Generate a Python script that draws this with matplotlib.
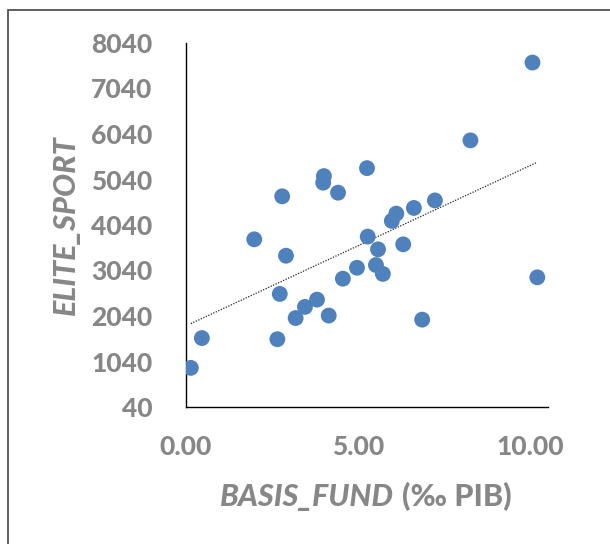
import numpy as np
import matplotlib
matplotlib.use("Agg")
import matplotlib.pyplot as plt
from matplotlib.patches import Rectangle

plt.rcParams["font.family"] = ["Lato", "DejaVu Sans"]

# data
basis_fund = [0.14, 0.46, 1.98, 2.65, 2.72, 2.79, 2.90, 3.18, 3.45, 3.80,
              4.14, 3.98, 4.00, 4.41, 4.55, 4.96, 5.25, 5.27, 5.51, 5.57,
              5.71, 5.97, 6.10, 6.30, 6.61, 6.85, 7.22, 8.25, 10.05, 10.19]
elite_sport = [900, 1555, 3725, 1530, 2525, 4670, 3365, 1995, 2240, 2400,
               2050, 4970, 5115, 4750, 2860, 3100, 5290, 3785, 3160, 3505,
               2965, 4130, 4290, 3615, 4415, 1960, 4580, 5900, 7610, 2890]
y_ticks = [40, 1040, 2040, 3040, 4040, 5040, 6040, 7040, 8040]
x_ticks = [0, 5, 10]

gray = "#878787"
blue = "#4f81bd"
weight = "black"

fig = plt.figure(figsize=(6.10, 5.44), dpi=100)
ax = fig.add_axes([186 / 610, 1 - 407 / 544, 362 / 610, 364 / 544])

x = np.array(basis_fund)
y = np.array(elite_sport)
ax.scatter(x, y, s=130, color=blue, edgecolors="none", zorder=3)

# linear trend line
k, b = np.polyfit(x, y, 1)
xt = np.array([x.min(), x.max()])
ax.plot(xt, k * xt + b, color="#222222", lw=0.9, linestyle=(0, (1, 1.2)), zorder=2)

ax.set_xlim(0, 10.5)
ax.set_ylim(40, 8040)
ax.set_yticks(y_ticks)
ax.set_xticks(x_ticks)
ax.set_xticklabels(["%.2f" % v for v in x_ticks])
ax.tick_params(length=0, labelsize=19, labelcolor=gray)
ax.tick_params(axis="y", pad=24)
ax.tick_params(axis="x", pad=20)
for lab in ax.get_xticklabels() + ax.get_yticklabels():
    lab.set_fontweight(weight)

ax.spines["right"].set_visible(False)
ax.spines["top"].set_visible(False)
for s in ["left", "bottom"]:
    ax.spines[s].set_color("black")
    ax.spines[s].set_linewidth(1.0)

# axis titles
fig.text(66 / 610, 1 - 225 / 544, "ELITE_SPORT", rotation=90, ha="center",
         va="center", fontsize=22, fontweight=weight, fontstyle="italic",
         color=gray)
t1 = fig.text(220 / 610, 1 - 506 / 544, "BASIS_FUND", ha="left", va="baseline",
              fontsize=22, fontweight=weight, fontstyle="italic", color=gray)
ax.annotate("(‰ PIB)", xy=(1, 0), xycoords=t1, xytext=(6, 0),
            textcoords="offset points", ha="left", va="bottom",
            fontsize=22, fontweight=weight, color=gray)

# chart border (only left/top visible)
fig.add_artist(Rectangle((7.5 / 610, -0.1), 1.2, 1.1 - 9.5 / 544,
                         transform=fig.transFigure, fill=False,
                         edgecolor="#444444", lw=1.2))

fig.savefig("out.png", dpi=100)
